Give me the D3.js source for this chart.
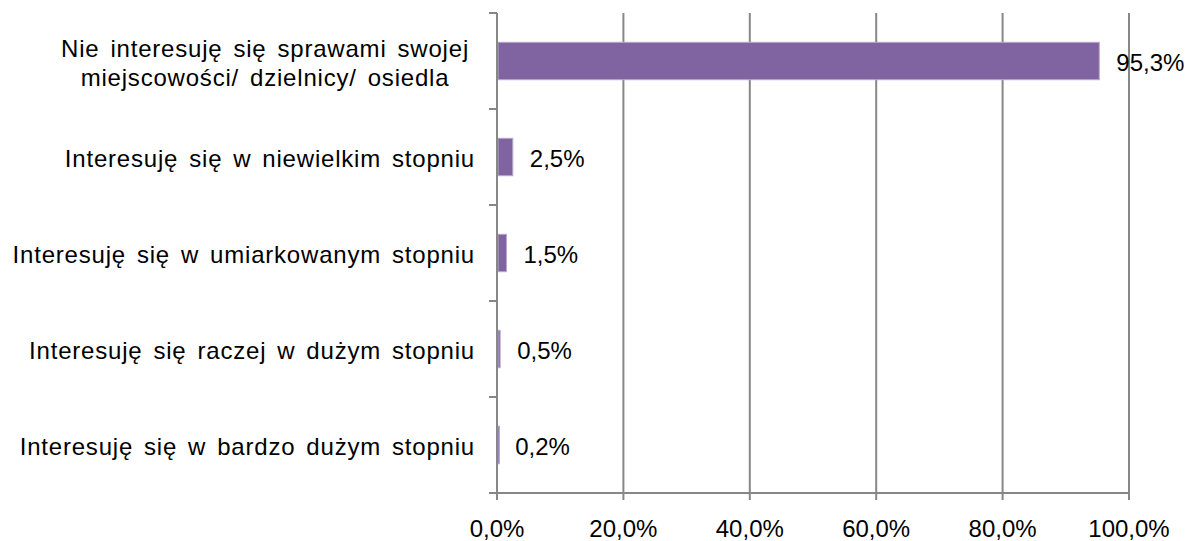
<!DOCTYPE html>
<html>
<head>
<meta charset="utf-8">
<script src="https://cdn.jsdelivr.net/npm/d3@7"></script>
<style>
  body { margin: 0; background: #fff; }
  text { font-family: "Liberation Sans", Arial, sans-serif; fill: #000; font-size: 24px; }
  .cat { letter-spacing: 0.8px; word-spacing: 3.5px; }
</style>
</head>
<body>
<div id="chart"></div>
<script>
// categories top to bottom
var categories = [
    ["Nie interesuję się sprawami swojej", "miejscowości/ dzielnicy/ osiedla"],
    ["Interesuję się w niewielkim stopniu"],
    ["Interesuję się w umiarkowanym stopniu"],
    ["Interesuję się raczej w dużym stopniu"],
    ["Interesuję się w bardzo dużym stopniu"]
];
var values = [95.3, 2.5, 1.5, 0.5, 0.2];
var ticks = [0, 20, 40, 60, 80, 100];

var fmt = function (v) { return v.toFixed(1).replace(".", ",") + "%"; };

var margin = {top: 13, right: 62, bottom: 48, left: 497};
var totalW = 1191, totalH = 541;
var width = totalW - margin.left - margin.right;
var height = totalH - margin.top - margin.bottom;

var svg = d3.select("#chart")
    .append("svg")
    .attr("width", totalW)
    .attr("height", totalH)
    .append("g")
    .attr("transform", "translate(" + margin.left + "," + margin.top + ")");

var x = d3.scaleLinear().domain([0, 100]).range([0, width]);
var y = d3.scaleBand()
    .domain(d3.range(categories.length))
    .range([0, height])
    .paddingInner(0.61)
    .paddingOuter(0.305);
var step = height / categories.length;

// gridlines
svg.append("g")
    .selectAll("line")
    .data(ticks.slice(1))
    .enter()
    .append("line")
    .attr("x1", function (d) { return x(d); })
    .attr("x2", function (d) { return x(d); })
    .attr("y1", 0)
    .attr("y2", height + 7)
    .attr("stroke", "#878787")
    .attr("stroke-width", 2);

// bars
svg.selectAll(".bar")
    .data(values)
    .enter()
    .append("rect")
    .attr("class", "bar")
    .attr("x", 1)
    .attr("y", function (d, i) { return y(i); })
    .attr("width", function (d) { return Math.max(x(d) - 1, 1.5); })
    .attr("height", y.bandwidth())
    .attr("fill", "#8064a2")
    .attr("stroke", "#b9a8d0")
    .attr("stroke-width", 1);

// left axis with ticks between categories
svg.append("line")
    .attr("x1", 0).attr("x2", 0)
    .attr("y1", 0).attr("y2", height + 7)
    .attr("stroke", "#878787").attr("stroke-width", 2);
svg.append("g")
    .selectAll("line")
    .data(d3.range(categories.length + 1))
    .enter()
    .append("line")
    .attr("x1", -8).attr("x2", 0)
    .attr("y1", function (d) { return d * step; })
    .attr("y2", function (d) { return d * step; })
    .attr("stroke", "#878787").attr("stroke-width", 2);

// bottom axis
svg.append("line")
    .attr("x1", -8).attr("x2", width)
    .attr("y1", height).attr("y2", height)
    .attr("stroke", "#878787").attr("stroke-width", 2);

svg.append("g")
    .selectAll("text")
    .data(ticks)
    .enter()
    .append("text")
    .attr("x", function (d) { return x(d); })
    .attr("y", height + 44)
    .attr("text-anchor", "middle")
    .text(fmt);

// category labels
var labels = svg.append("g")
    .selectAll("text")
    .data(categories)
    .enter()
    .append("text")
    .attr("class", "cat")
    .attr("text-anchor", function (d) { return d.length > 1 ? "middle" : "end"; })
    .attr("transform", function (d, i) {
        var tx = d.length > 1 ? -232 : -22;
        return "translate(" + tx + "," + (y(i) + y.bandwidth() / 2) + ")";
    });
labels.each(function (d) {
    var t = d3.select(this);
    var n = d.length;
    d.forEach(function (line, k) {
        t.append("tspan")
            .attr("x", 0)
            .attr("y", (k - (n - 1) / 2) * 29 + 10)
            .text(line);
    });
});

// value labels
svg.append("g")
    .selectAll("text")
    .data(values)
    .enter()
    .append("text")
    .attr("x", function (d) { return x(d) + 17; })
    .attr("y", function (d, i) { return y(i) + y.bandwidth() / 2 + 10; })
    .text(fmt);
</script>
</body>
</html>
